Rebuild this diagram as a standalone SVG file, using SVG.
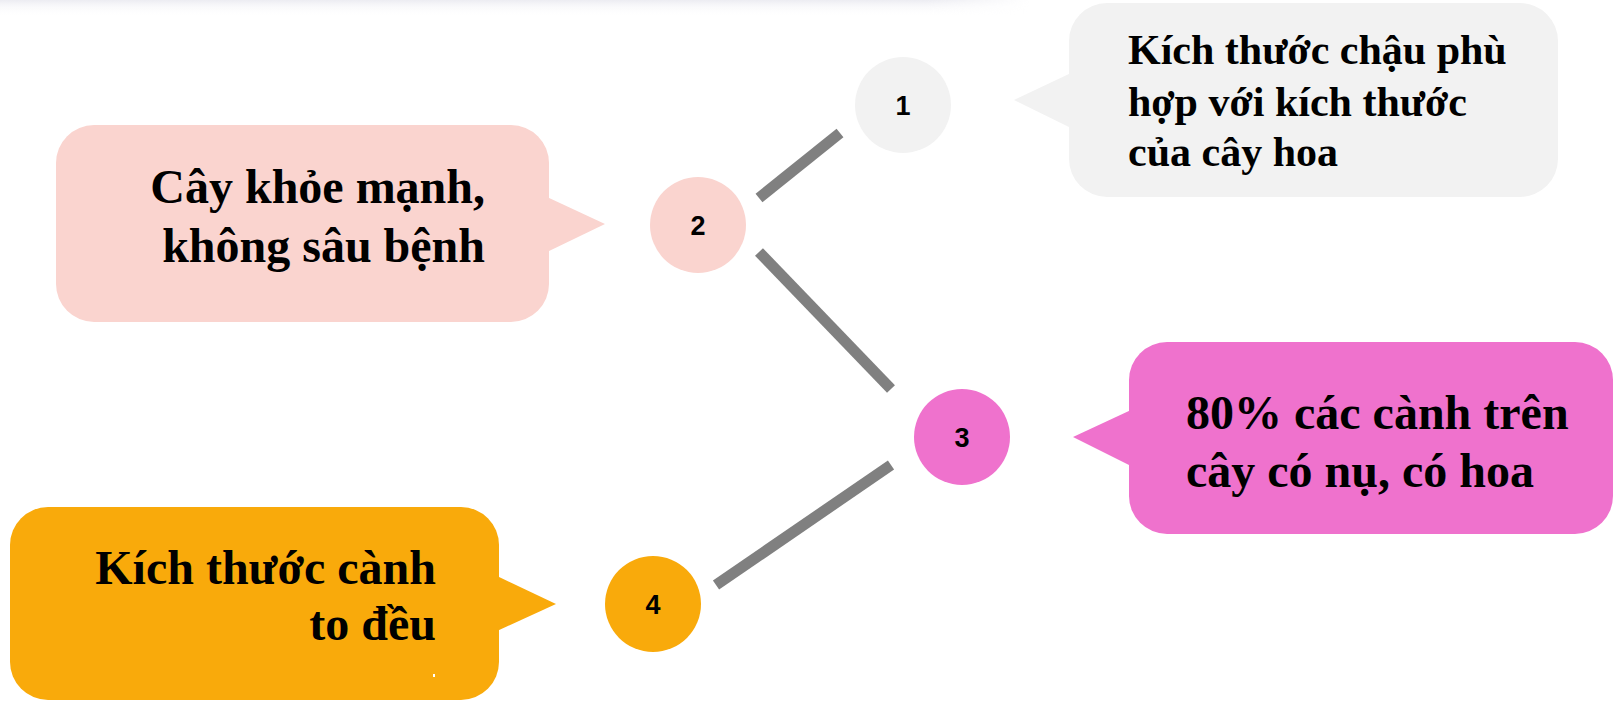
<svg xmlns="http://www.w3.org/2000/svg" width="1614" height="702" viewBox="0 0 1614 702">
<defs>
<linearGradient id="shade" x1="0" y1="0" x2="0" y2="1">
<stop offset="0" stop-color="#ececf2"/>
<stop offset="1" stop-color="#ffffff" stop-opacity="0"/>
</linearGradient>
<linearGradient id="shadeH" x1="0" y1="0" x2="1" y2="0">
<stop offset="0" stop-color="#fff" stop-opacity="1"/>
<stop offset="0.9" stop-color="#fff" stop-opacity="1"/>
<stop offset="1" stop-color="#fff" stop-opacity="0"/>
</linearGradient>
<mask id="fadeR"><rect x="0" y="0" width="1030" height="16" fill="url(#shadeH)"/></mask>
<style>
.txt{font-family:"Liberation Serif","Times New Roman",serif;font-weight:bold;fill:#000}
.big{font-size:48px}
.mid{font-size:42px}
.num{font-family:"Liberation Sans",Arial,sans-serif;font-weight:bold;font-size:27px;fill:#000;text-anchor:middle}
.conn{stroke:#808080;stroke-width:11;stroke-linecap:butt;fill:none}
.gray{fill:#f2f2f2}
.pink{fill:#fad4cf}
.mag{fill:#ef72cd}
.orange{fill:#f9aa0b}
</style>
</defs>
<rect width="1614" height="702" fill="#ffffff"/>
<rect x="0" y="0" width="1030" height="16" fill="url(#shade)" mask="url(#fadeR)"/>
<g id="connectors">
<line class="conn" x1="759" y1="198" x2="840" y2="133"/>
<line class="conn" x1="759" y1="252" x2="891" y2="389"/>
<line class="conn" x1="891" y1="465" x2="716" y2="585"/>
</g>
<g id="node1">
<rect class="gray" x="1069" y="3" width="489" height="194" rx="38" ry="38"/>
<polygon class="gray" points="1071,73 1014,100 1071,128"/>
<circle class="gray" cx="903" cy="105" r="48"/>
<text class="num" x="903" y="115">1</text>
<text class="txt mid" x="1128" y="64">Kích thước chậu phù</text>
<text class="txt mid" x="1128" y="116">hợp với kích thước</text>
<text class="txt mid" x="1128" y="166">của cây hoa</text>
</g>
<g id="node2">
<rect class="pink" x="56" y="125" width="493" height="197" rx="38" ry="38"/>
<polygon class="pink" points="547,197 605,224 547,252"/>
<circle class="pink" cx="698" cy="225" r="48"/>
<text class="num" x="698" y="235">2</text>
<text class="txt big" x="485" y="203" text-anchor="end">Cây khỏe mạnh,</text>
<text class="txt big" x="485" y="262" text-anchor="end">không sâu bệnh</text>
</g>
<g id="node3">
<rect class="mag" x="1129" y="342" width="484" height="192" rx="38" ry="38"/>
<polygon class="mag" points="1131,410 1073,437 1131,466"/>
<circle class="mag" cx="962" cy="437" r="48"/>
<text class="num" x="962" y="447">3</text>
<text class="txt big" x="1186" y="429">80% các cành trên</text>
<text class="txt big" x="1186" y="487">cây có nụ, có hoa</text>
</g>
<g id="node4">
<rect class="orange" x="10" y="507" width="489" height="193" rx="38" ry="38"/>
<polygon class="orange" points="497,576 556,604 497,631"/>
<circle class="orange" cx="653" cy="604" r="48"/>
<text class="num" x="653" y="614">4</text>
<text class="txt big" x="436" y="584" text-anchor="end">Kích thước cành</text>
<text class="txt big" x="436" y="640" text-anchor="end">to đều</text>
<rect x="433" y="674" width="2" height="3" fill="#ffffff"/>
</g>
</svg>
